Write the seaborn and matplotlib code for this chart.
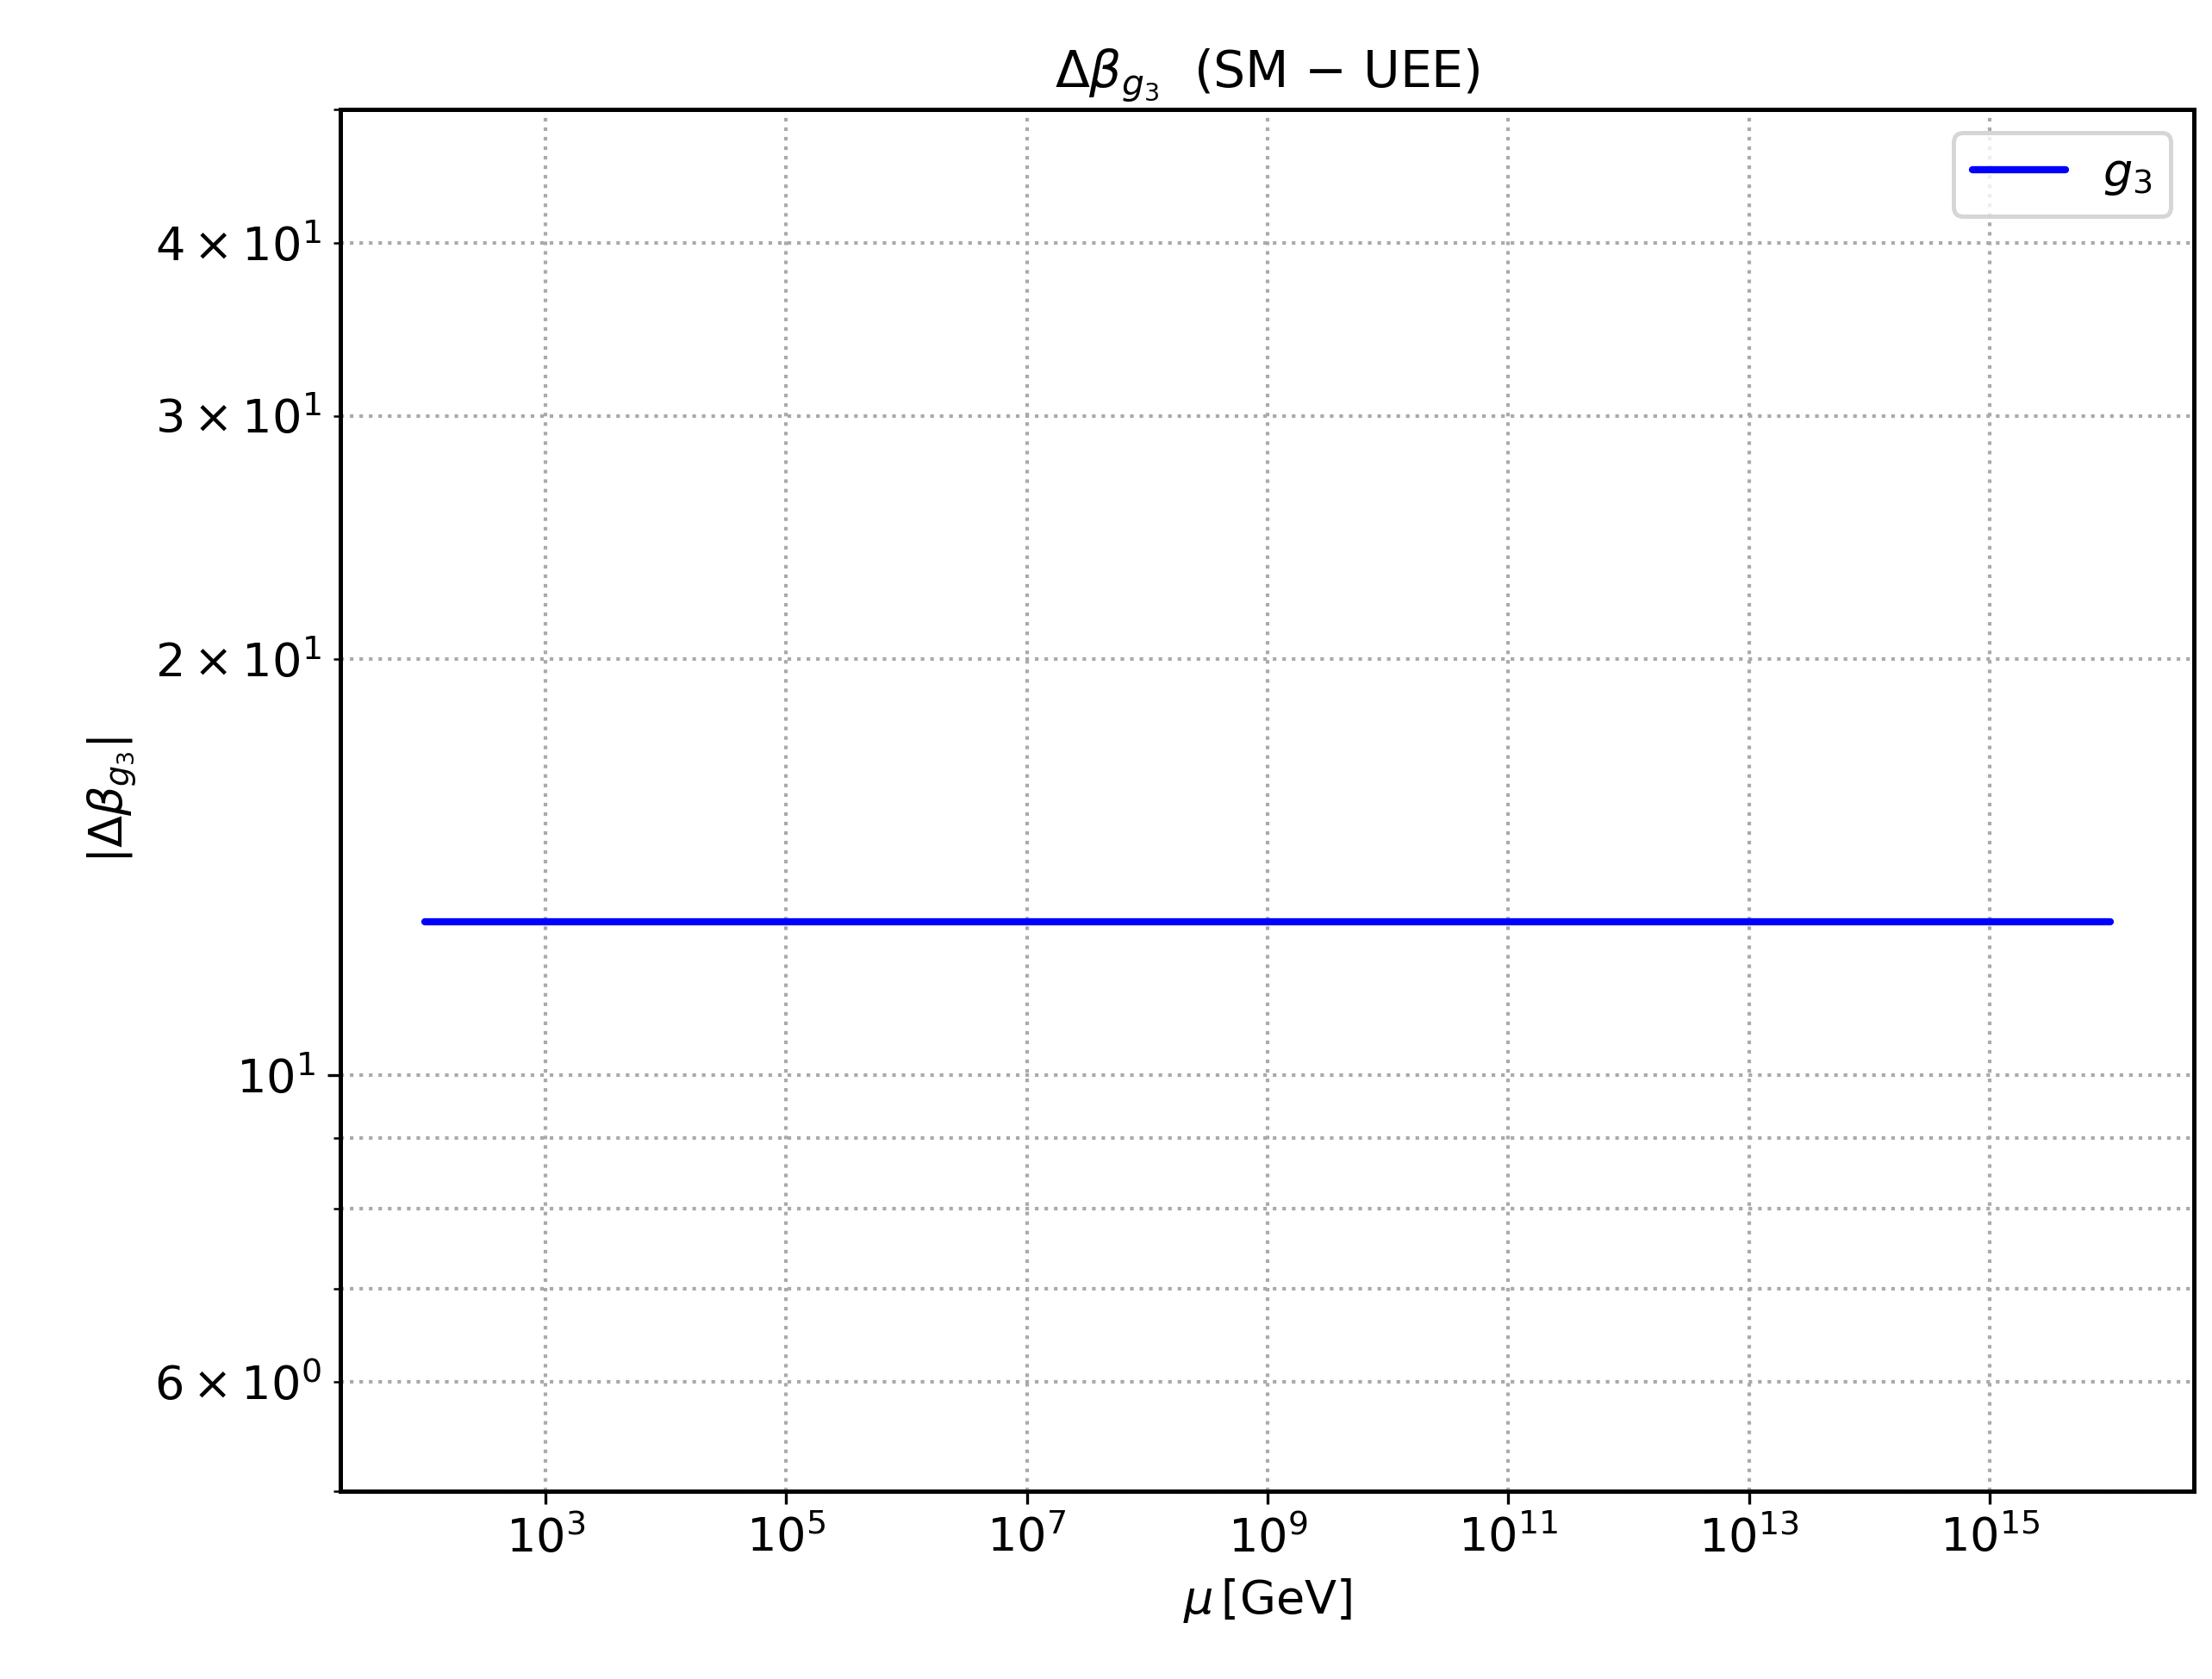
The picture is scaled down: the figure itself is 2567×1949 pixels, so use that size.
import numpy as np
import matplotlib
matplotlib.use("Agg")
import matplotlib.pyplot as plt
import seaborn as sns
import pandas as pd

mu = [1e2, 1e16]
dbeta = [12.9, 12.9]
series = "$g_3$"

sns.set_style("ticks")
plt.rcParams['font.family'] = ['DejaVu Sans']
plt.rcParams['text.color'] = 'black'
plt.rcParams['axes.labelcolor'] = 'black'
plt.rcParams['xtick.color'] = 'black'
plt.rcParams['ytick.color'] = 'black'
fig = plt.figure(figsize=(2567/300, 1949/300), dpi=300)
ax = fig.add_axes([0.154, 0.112, 0.838, 0.823])
df = pd.DataFrame({"mu": mu, "d": dbeta})
sns.lineplot(data=df, x="mu", y="d", ax=ax, color="blue", lw=2, label=series)
ax.set_xscale("log"); ax.set_yscale("log")
ax.set_ylim(5, 50)
ax.set_xlim(10**(2-0.7), 10**(16+0.7))
ax.set_xticks([10**k for k in range(3, 17, 2)])
ax.xaxis.set_minor_locator(matplotlib.ticker.NullLocator())
ax.grid(True, axis='x', which='major', ls=':', color='#aaaaaa', lw=1)
ax.grid(True, axis='y', which='both', ls=':', color='#aaaaaa', lw=1)
ax.set_xlabel(r"$\mu\,$[GeV]", fontsize=13)
ax.set_ylabel(r"$|\Delta\beta_{g_3}|$", fontsize=13)
ax.set_title(r"$\Delta\beta_{g_3}$  (SM $-$ UEE)", fontsize=14)
ax.tick_params(which='both', labelsize=13)
for s in ax.spines.values():
    s.set_color("black"); s.set_linewidth(1.2)
leg = ax.legend(loc="upper right", fontsize=13)
leg.get_frame().set_edgecolor('#cccccc'); leg.get_frame().set_linewidth(1.2)
fig.savefig("out.png", dpi=300)
